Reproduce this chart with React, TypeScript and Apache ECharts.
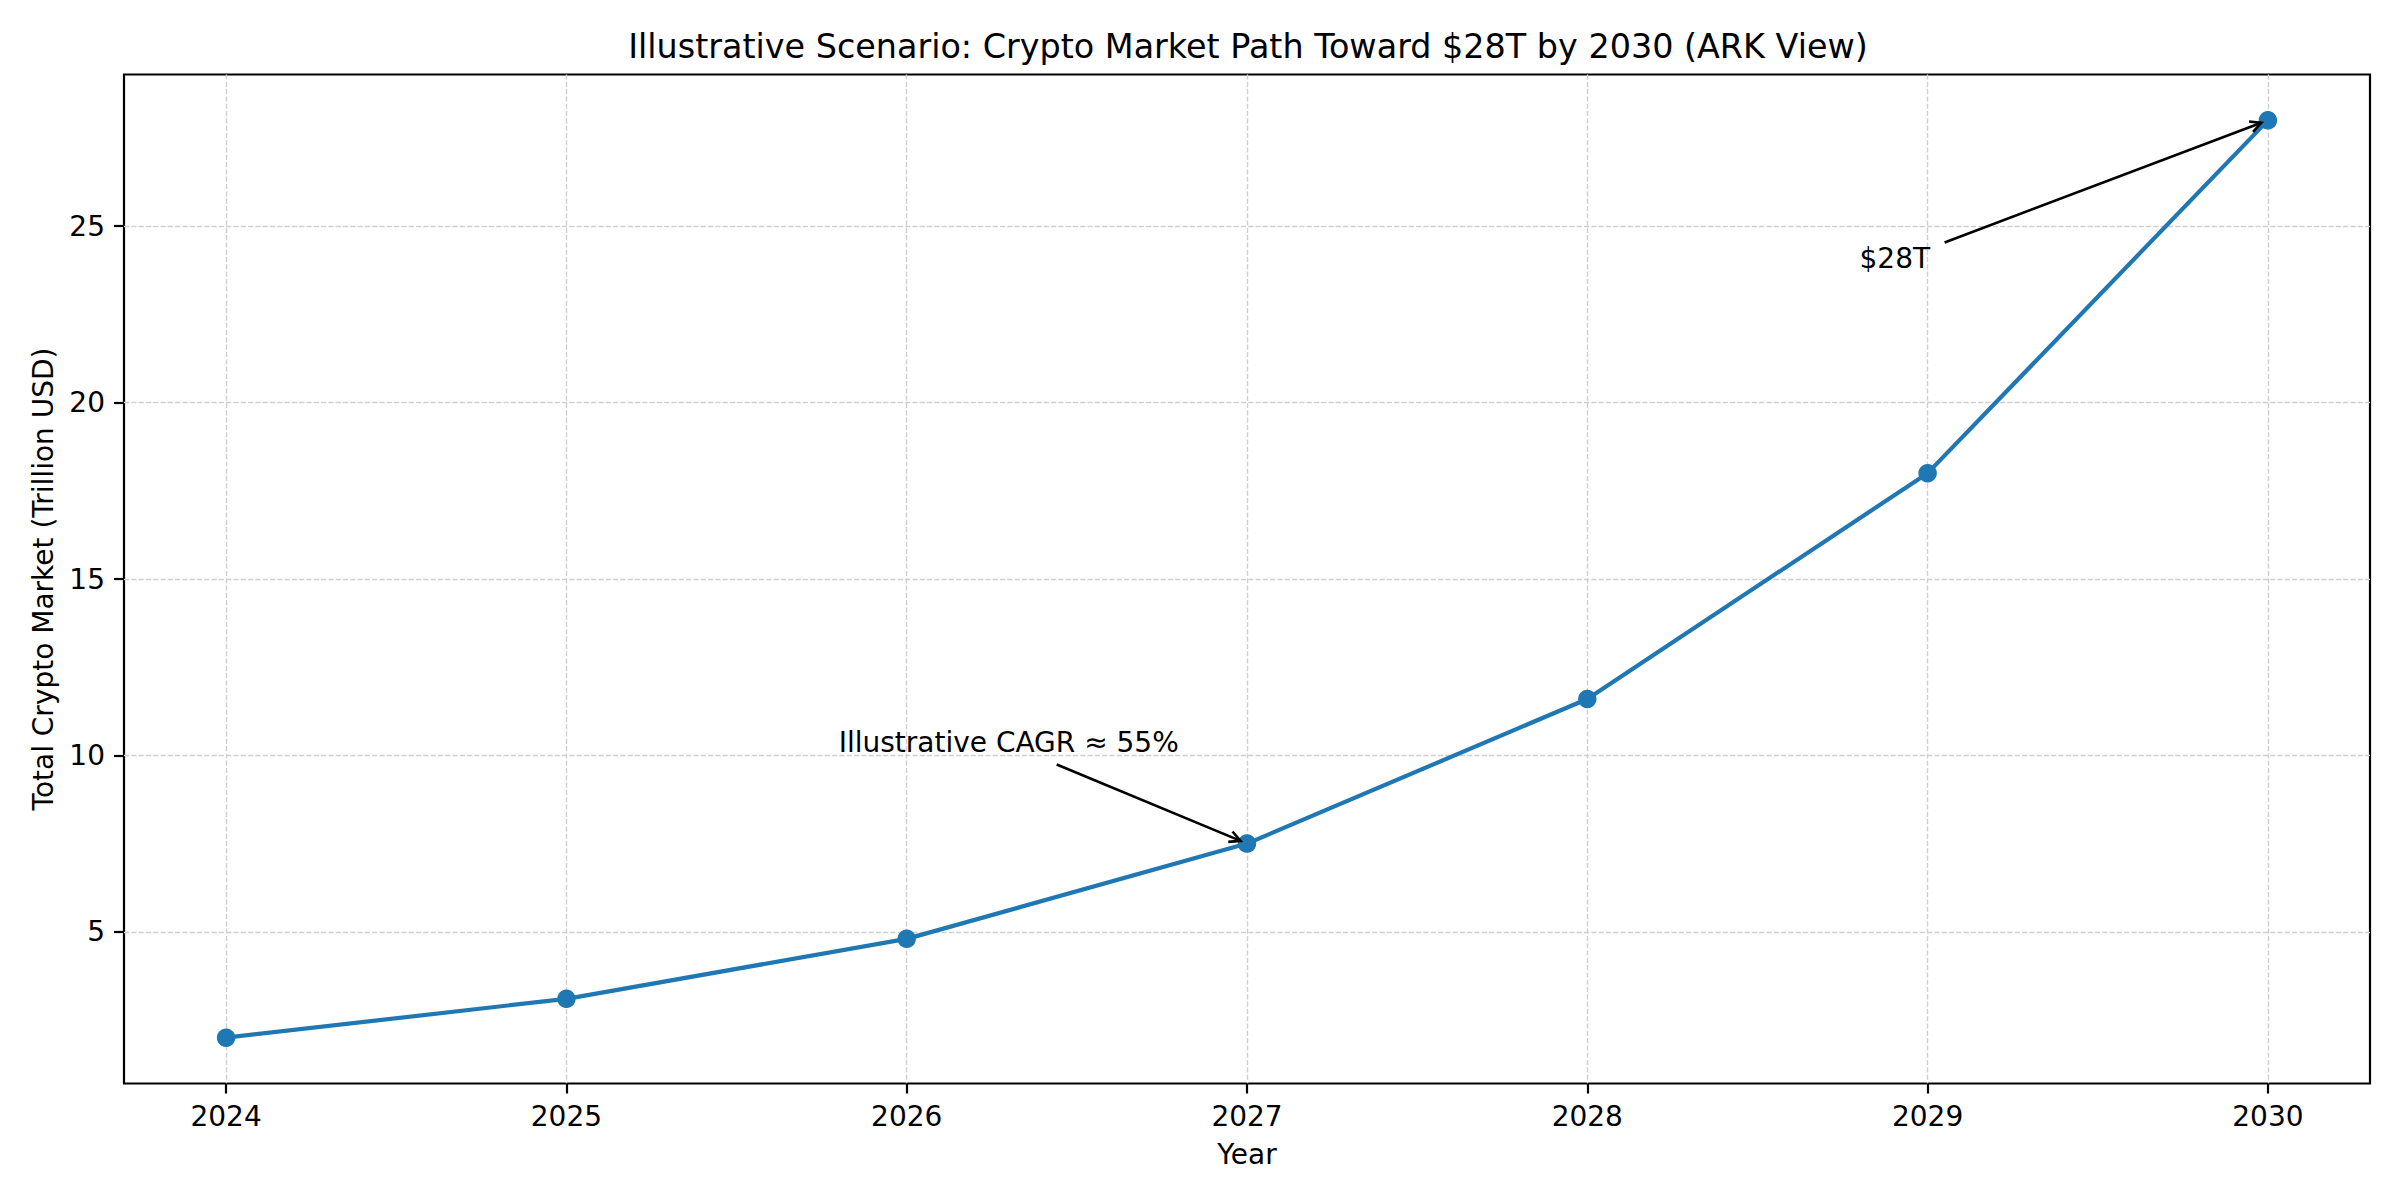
import React, { useEffect, useRef } from 'react';
import * as echarts from 'echarts';

const years = [2024, 2025, 2026, 2027, 2028, 2029, 2030];
const marketTrillions = [2.0, 3.1, 4.8, 7.5, 11.6, 18.0, 28.0];
const yTickValues = [5, 10, 15, 20, 25];

const annotationTexts = ['Illustrative CAGR ≈ 55%', '$28T'];
const annotationTargets = [[2027, 7.5], [2030, 28.0]];
const annotationTextAt = [[2025.8, 10.1], [2028.8, 23.8]];

const chartTitle = 'Illustrative Scenario: Crypto Market Path Toward $28T by 2030 (ARK View)';
const xAxisName = 'Year';
const yAxisName = 'Total Crypto Market (Trillion USD)';

const FONT = '"DejaVu Sans", "Noto Sans", sans-serif';
const FS = 28;
const LINE_BLUE = '#1f77b4';

// matplotlib style 5% margins around the data
const xPad = (years[years.length - 1] - years[0]) * 0.05;
const yMin = Math.min(...marketTrillions);
const yMax = Math.max(...marketTrillions);
const yPad = (yMax - yMin) * 0.05;

const measureText = (text: string, font: string) => {
  const ctx = document.createElement('canvas').getContext('2d');
  if (!ctx) return text.length * FS * 0.55;
  ctx.font = font;
  return ctx.measureText(text).width;
};

const App: React.FC = () => {
  const chartRef = useRef<HTMLDivElement>(null);

  useEffect(() => {
    if (!chartRef.current) return;
    const chart = echarts.init(chartRef.current, null, { renderer: 'svg' });

    const tickText = { fontFamily: FONT, fontSize: FS, color: '#000' };
    const gridLine = { show: true, lineStyle: { color: '#cfcfcf', width: 1.4, type: [5.1, 2.2] } };

    chart.setOption({
      animation: false,
      backgroundColor: '#fff',
      title: {
        text: chartTitle,
        left: 1243,
        top: 25,
        textAlign: 'center',
        textStyle: { fontFamily: FONT, fontSize: 33.4, fontWeight: 'normal', color: '#000' }
      },
      grid: {
        left: 124,
        right: 30,
        top: 74.5,
        bottom: 116.5,
        show: true,
        borderColor: '#000',
        borderWidth: 2.2,
        containLabel: false
      },
      xAxis: {
        type: 'value',
        min: years[0] - xPad,
        max: years[years.length - 1] + xPad,
        name: xAxisName,
        nameLocation: 'middle',
        nameGap: 57,
        nameTextStyle: tickText,
        axisLine: { show: false },
        axisTick: {
          show: true,
          customValues: years,
          length: 10,
          lineStyle: { color: '#000', width: 2.2 }
        },
        axisLabel: {
          show: true,
          customValues: years,
          margin: 19,
          formatter: (v: number) => String(v),
          ...tickText
        },
        splitLine: gridLine
      },
      yAxis: {
        type: 'value',
        min: yMin - yPad,
        max: yMax + yPad,
        name: yAxisName,
        nameLocation: 'middle',
        nameGap: 67,
        nameTextStyle: tickText,
        axisLine: { show: false },
        axisTick: {
          show: true,
          customValues: yTickValues,
          length: 10,
          lineStyle: { color: '#000', width: 2.2 }
        },
        axisLabel: {
          show: true,
          customValues: yTickValues,
          margin: 19,
          formatter: (v: number) => String(v),
          ...tickText
        },
        splitLine: gridLine
      },
      series: [
        {
          type: 'line',
          data: years.map((y, i) => [y, marketTrillions[i]]),
          symbol: 'circle',
          symbolSize: 18.5,
          showSymbol: true,
          lineStyle: { color: LINE_BLUE, width: 4.2 },
          itemStyle: { color: LINE_BLUE },
          z: 3
        }
      ]
    });

    // annotations with arrows, placed after the axes exist
    const font = `${FS}px ${FONT}`;
    const elements: any[] = [];
    annotationTexts.forEach((text, i) => {
      const [tx, tyBase] = chart.convertToPixel({ gridIndex: 0 }, annotationTextAt[i]) as number[];
      const [px, py] = chart.convertToPixel({ gridIndex: 0 }, annotationTargets[i]) as number[];
      const w = measureText(text, font);
      const top = tyBase - 0.76 * FS;
      const bottom = tyBase + 0.24 * FS;
      const cx = tx + w / 2;
      const cy = (top + bottom) / 2;
      const dx = px - cx;
      const dy = py - cy;
      const len = Math.hypot(dx, dy);
      const ux = dx / len;
      const uy = dy / len;
      // where the line from the text centre leaves the text box
      const tX = ux !== 0 ? (w / 2) / Math.abs(ux) : Infinity;
      const tY = uy !== 0 ? ((bottom - top) / 2) / Math.abs(uy) : Infinity;
      const exitT = Math.min(tX, tY) + 15.5;
      const sx = cx + ux * exitT;
      const sy = cy + uy * exitT;
      const ex = px - ux * 7;
      const ey = py - uy * 7;
      const hl = 11;
      const hw = 5.6;
      const bx = ex - ux * hl;
      const by = ey - uy * hl;

      elements.push({
        type: 'text',
        z: 10,
        style: {
          text,
          x: tx,
          y: tyBase - 0.35 * FS,
          font,
          fill: '#000',
          textAlign: 'left',
          textVerticalAlign: 'middle'
        }
      });
      elements.push({
        type: 'line',
        z: 10,
        shape: { x1: sx, y1: sy, x2: ex, y2: ey },
        style: { stroke: '#000', lineWidth: 2.6 }
      });
      elements.push({
        type: 'polyline',
        z: 10,
        shape: {
          points: [
            [bx - uy * hw, by + ux * hw],
            [ex, ey],
            [bx + uy * hw, by - ux * hw]
          ]
        },
        style: { stroke: '#000', lineWidth: 2.6, fill: null }
      });
    });
    chart.setOption({ graphic: { elements } });

    return () => {
      chart.dispose();
    };
  }, []);

  return (
    <div
      ref={chartRef}
      style={{ position: 'fixed', left: 0, top: 0, width: '2400px', height: '1200px', background: '#fff' }}
    />
  );
};

export default App;
